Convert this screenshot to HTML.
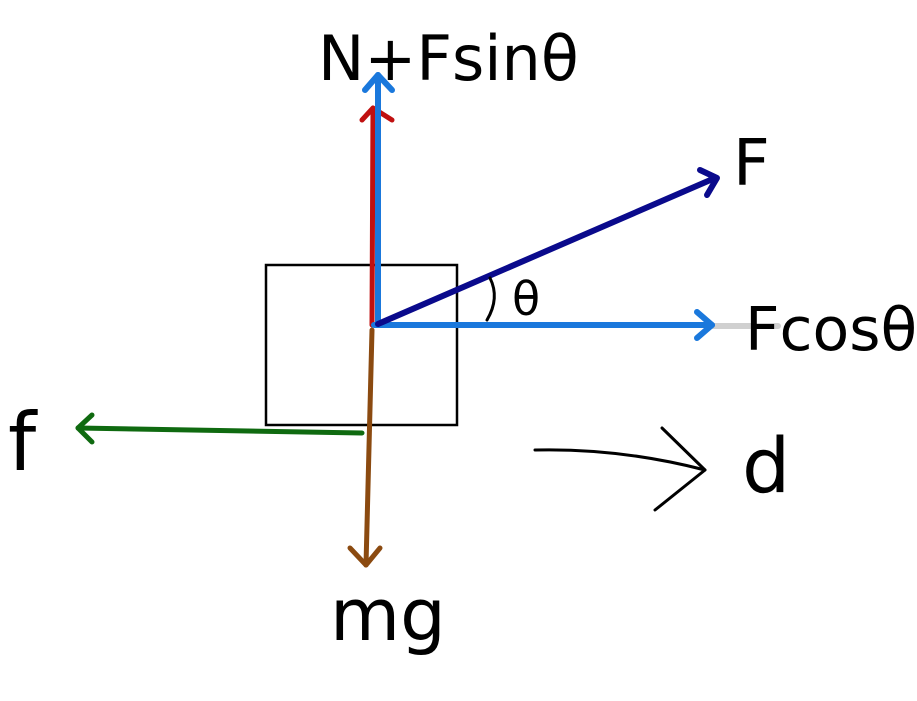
<!DOCTYPE html>
<html><head><meta charset="utf-8"><style>
html,body{margin:0;padding:0;background:#fff;}
svg{display:block;}
text{font-family:"DejaVu Sans","Liberation Sans",sans-serif;fill:#000;}
</style></head><body>
<svg width="917" height="701" viewBox="0 0 917 701" xmlns="http://www.w3.org/2000/svg">
<rect x="0" y="0" width="917" height="701" fill="#fff"/>
<rect x="266" y="265" width="191" height="160" fill="none" stroke="#000" stroke-width="2.5"/>
<g fill="none" stroke-linecap="round" stroke-linejoin="round">
<line x1="712" y1="326" x2="778" y2="326" stroke="#d0d0d0" stroke-width="6"/>
<line x1="372" y1="325" x2="373" y2="110" stroke="#c01010" stroke-width="5"/>
<polyline points="362,120 373,108 392,120" stroke="#c01010" stroke-width="5"/>
<line x1="372" y1="330" x2="366" y2="565" stroke="#8b4a10" stroke-width="5"/>
<polyline points="350,548 366,565 380,548" stroke="#8b4a10" stroke-width="5"/>
<line x1="362" y1="433" x2="78" y2="428" stroke="#0f6a10" stroke-width="5"/>
<polyline points="92,415 78,428 92,442" stroke="#0f6a10" stroke-width="5"/>
<line x1="378" y1="325" x2="378" y2="75" stroke="#1a78dc" stroke-width="6"/>
<polyline points="365,90 378,75 392,90" stroke="#1a78dc" stroke-width="6"/>
<line x1="374" y1="325" x2="712" y2="325" stroke="#1a78dc" stroke-width="6"/>
<polyline points="697,312 712,325 697,338" stroke="#1a78dc" stroke-width="6"/>
<line x1="378" y1="324" x2="715" y2="178" stroke="#0a0a8c" stroke-width="6"/>
<polyline points="700,170 717,178 707,195" stroke="#0a0a8c" stroke-width="6"/>
<path d="M535 450 Q620 448 705 470" stroke="#000" stroke-width="3"/>
<polyline points="662,428 705,470 655,510" stroke="#000" stroke-width="3"/>
<path d="M490 278 Q500 298 487 320" stroke="#000" stroke-width="3"/>
</g>
<text x="318" y="80" font-size="62">N+Fsinθ</text>
<text x="733" y="185" font-size="64">F</text>
<text x="745" y="350" font-size="60">Fcosθ</text>
<text x="512" y="315" font-size="46">θ</text>
<text x="8" y="470" font-size="80">f</text>
<text x="742" y="492" font-size="76">d</text>
<text x="330" y="640" font-size="72">mg</text>
</svg>
</body></html>
